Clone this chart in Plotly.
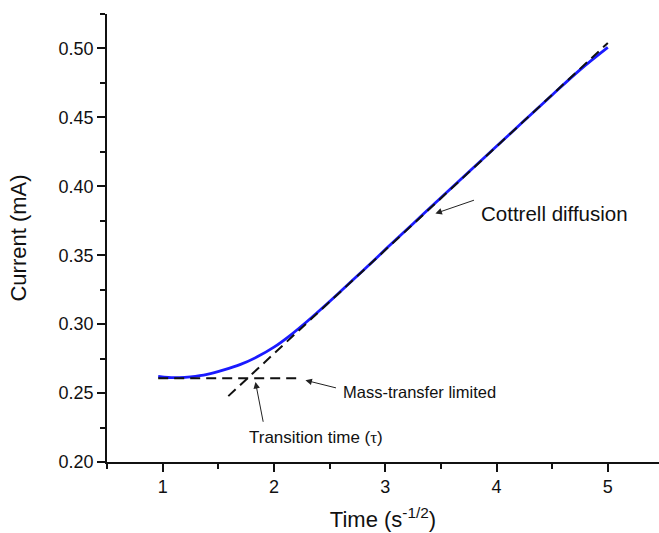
import plotly.graph_objects as go

# Measured current vs. inverse square-root time
time_x = [0.96, 1.05, 1.15, 1.25, 1.40, 1.55, 1.70, 1.85, 2.00, 2.15, 2.30, 2.45,
          2.60, 2.75, 2.90, 3.00, 3.25, 3.50, 3.75, 4.00, 4.25, 4.50, 4.75, 5.00]
current_y = [0.2622, 0.2613, 0.2612, 0.2618, 0.2636, 0.2668, 0.2708, 0.2763, 0.2833,
             0.2921, 0.3021, 0.3128, 0.3239, 0.3351, 0.3464, 0.3541, 0.3729, 0.3917,
             0.4104, 0.4290, 0.4477, 0.4663, 0.4845, 0.5008]

# Cottrell (linear) fit line and mass-transfer plateau
cottrell_x = [1.59, 5.00]
cottrell_y = [0.2478, 0.5040]
plateau_x = [0.96, 2.22]
plateau_y = [0.2607, 0.2607]

FONT = "Liberation Sans, Arial, sans-serif"
INK = "#111111"

fig = go.Figure()
fig.add_trace(go.Scatter(x=time_x, y=current_y, mode="lines",
                         line=dict(color="#1a1aff", width=2.8, shape="spline"),
                         showlegend=False, hoverinfo="skip"))
fig.add_trace(go.Scatter(x=cottrell_x, y=cottrell_y, mode="lines",
                         line=dict(color="#111111", width=2, dash="10px,6px"),
                         showlegend=False, hoverinfo="skip"))
fig.add_trace(go.Scatter(x=plateau_x, y=plateau_y, mode="lines",
                         line=dict(color="#111111", width=2, dash="10px,6px"),
                         showlegend=False, hoverinfo="skip"))

def arrow(x, y, ax, ay):
    fig.add_annotation(x=x, y=y, ax=ax, ay=ay, xref="x", yref="y", axref="x", ayref="y",
                       text="", showarrow=True, arrowhead=2, arrowsize=1.3,
                       arrowwidth=1, arrowcolor="#222222")

def label(x, y, text, size, anchor="left"):
    fig.add_annotation(x=x, y=y, xref="x", yref="y", text=text, showarrow=False,
                       xanchor=anchor, yanchor="middle",
                       font=dict(family=FONT, size=size, color=INK))

arrow(3.451, 0.3803, 3.811, 0.3903)
label(3.845, 0.3803, "Cottrell diffusion", 20.5)
arrow(2.283, 0.2593, 2.571, 0.2535)
label(2.605, 0.2505, "Mass-transfer limited", 16.5)
arrow(1.834, 0.2580, 1.906, 0.2281)
label(2.382, 0.2179,
      "Transition time (<span style='font-family:Liberation Serif, serif'>τ</span>)",
      17, anchor="center")

axis_common = dict(showline=True, linewidth=1.5, linecolor=INK, mirror=False,
                   ticks="outside", ticklen=8, tickwidth=1.5, tickcolor=INK,
                   showgrid=False, zeroline=False,
                   tickfont=dict(family=FONT, size=18, color=INK))

fig.update_xaxes(range=[0.5, 5.46], tickvals=[1, 2, 3, 4, 5],
                 minor=dict(ticks="outside", ticklen=5, tickwidth=1.5, tickcolor=INK,
                            tickvals=[0.5, 1.5, 2.5, 3.5, 4.5]),
                 title=dict(text="Time (s<sup>-1/2</sup>)", standoff=15,
                            font=dict(family=FONT, size=22, color=INK)),
                 **axis_common)
fig.update_yaxes(range=[0.2, 0.525],
                 tickvals=[0.20, 0.25, 0.30, 0.35, 0.40, 0.45, 0.50],
                 ticktext=["0.20", "0.25", "0.30", "0.35", "0.40", "0.45", "0.50"],
                 minor=dict(ticks="outside", ticklen=5, tickwidth=1.5, tickcolor=INK,
                            tickvals=[0.225, 0.275, 0.325, 0.375, 0.425, 0.475, 0.525]),
                 title=dict(text="Current (mA)", standoff=26,
                            font=dict(family=FONT, size=22, color=INK)),
                 **axis_common)

fig.update_layout(width=659, height=533, margin=dict(l=107, r=0, t=14, b=71),
                  plot_bgcolor="white", paper_bgcolor="white")

fig.write_html("out.html")
